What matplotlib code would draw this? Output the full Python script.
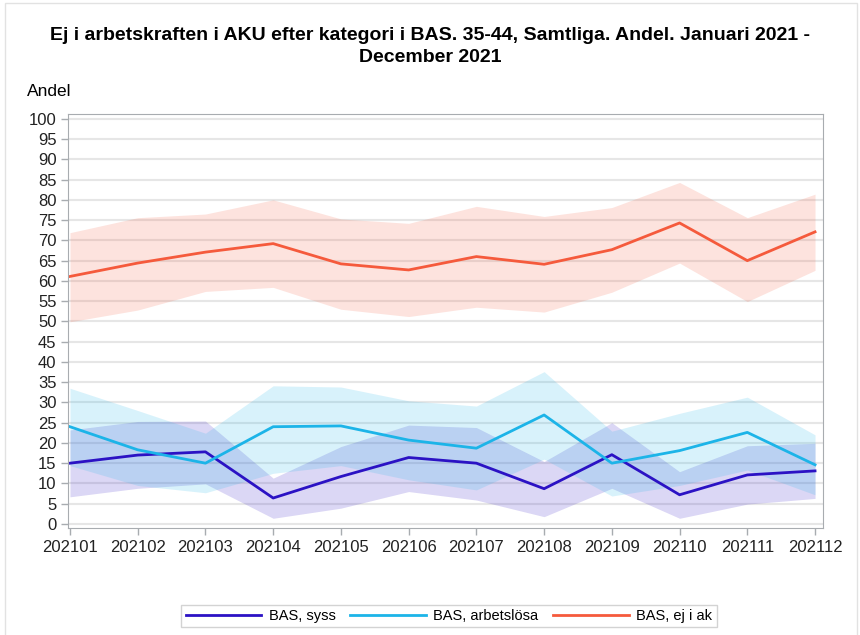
import matplotlib.pyplot as plt
from matplotlib.patches import Rectangle
import numpy as np

plt.rcParams['font.family'] = ['Liberation Sans', 'DejaVu Sans']

months = ['202101', '202102', '202103', '202104', '202105', '202106',
          '202107', '202108', '202109', '202110', '202111', '202112']

# BAS, syss
syss = [15.0, 17.0, 17.8, 6.4, 11.7, 16.4, 15.0, 8.7, 17.1, 7.2, 12.1, 13.1]
syss_low = [6.7, 8.8, 9.9, 1.4, 3.9, 8.0, 5.9, 1.8, 8.8, 1.4, 4.9, 6.3]
syss_high = [23.2, 25.3, 25.4, 11.3, 19.1, 24.4, 23.8, 15.4, 25.0, 12.9, 19.3, 19.9]

# BAS, arbetslösa
arbl = [24.0, 18.3, 15.0, 24.0, 24.2, 20.7, 18.7, 26.9, 15.0, 18.1, 22.6, 14.6]
arbl_low = [14.4, 9.5, 7.7, 12.5, 14.4, 10.9, 8.4, 16.0, 6.9, 9.5, 13.3, 7.2]
arbl_high = [33.5, 28.0, 22.4, 34.1, 33.8, 30.4, 29.1, 37.6, 22.9, 27.3, 31.3, 22.0]

# BAS, ej i ak
ejak = [61.1, 64.4, 67.1, 69.2, 64.2, 62.7, 66.0, 64.1, 67.7, 74.3, 65.0, 72.1]
ejak_low = [49.9, 52.8, 57.4, 58.4, 53.0, 51.2, 53.5, 52.3, 57.2, 64.4, 54.9, 62.6]
ejak_high = [71.9, 75.6, 76.5, 80.0, 75.3, 74.2, 78.4, 75.9, 78.1, 84.3, 75.6, 81.4]

c_syss = '#2b12c4'
c_arbl = '#1cb4e8'
c_ejak = '#f55a3c'

fig = plt.figure(figsize=(8.6, 6.35), dpi=100)
ax = fig.add_axes([0.0787, 0.1685, 0.878, 0.652])

x = np.arange(len(months))
ax.fill_between(x, syss_low, syss_high, color=c_syss, alpha=0.17, lw=0)
ax.fill_between(x, arbl_low, arbl_high, color=c_arbl, alpha=0.17, lw=0)
ax.fill_between(x, ejak_low, ejak_high, color=c_ejak, alpha=0.17, lw=0)
l1, = ax.plot(x, syss, color=c_syss, lw=2, label='BAS, syss')
l2, = ax.plot(x, arbl, color=c_arbl, lw=2, label='BAS, arbetslösa')
l3, = ax.plot(x, ejak, color=c_ejak, lw=2, label='BAS, ej i ak')

ax.set_xlim(-0.034, 11.114)
ax.set_ylim(-1.0, 101.2)
ax.set_yticks(np.arange(0, 101, 5))
ax.set_xticks(x)
ax.set_xticklabels(months)
ax.grid(axis='y', color='#e6e6e6', lw=1.5)
ax.set_axisbelow(True)
for s in ax.spines.values():
    s.set_color('#a8acb0')
ax.tick_params(axis='both', colors='#a8acb0', labelcolor='#222222',
               labelsize=12, length=5, width=1)
ax.tick_params(axis='y', pad=3)

fig.text(0.5, 1 - 35 / 635, 'Ej i arbetskraften i AKU efter kategori i BAS. 35-44, Samtliga. Andel. Januari 2021 -',
         ha='center', va='center', fontsize=14, fontweight='bold')
fig.text(0.5, 1 - 57 / 635, 'December 2021',
         ha='center', va='center', fontsize=14, fontweight='bold')
fig.text(0.031, 1 - 92 / 635, 'Andel', fontsize=12.5, va='center')

leg = fig.legend(handles=[l1, l2, l3], loc='center', ncol=3,
                 bbox_to_anchor=(0.522, 0.03), fontsize=10.5, handlelength=5.2,
                 handletextpad=0.5, columnspacing=1.0, fancybox=False,
                 edgecolor='#c8c8c8', borderpad=0.3)
leg.get_frame().set_linewidth(1)

# outer frame round the chart
fig.patches.append(Rectangle((0.006, -0.01), 0.99, 1.005, transform=fig.transFigure,
                             fill=False, edgecolor='#e2e2e2', lw=1))

fig.savefig('out.png', dpi=100)
